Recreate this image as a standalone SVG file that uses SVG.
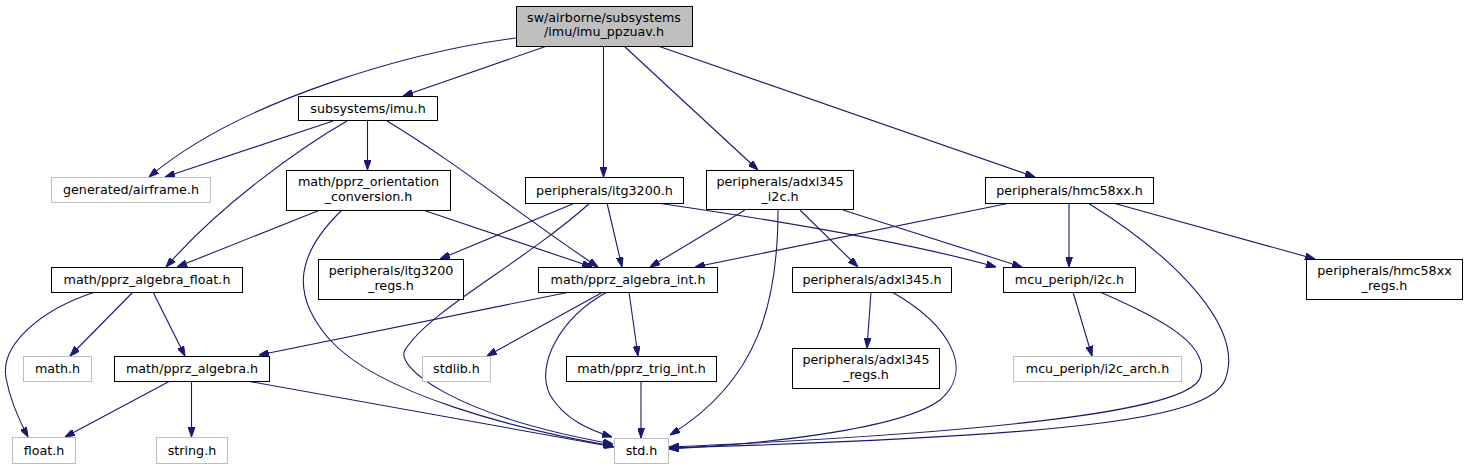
<svg xmlns="http://www.w3.org/2000/svg" width="1467" height="469" viewBox="0 0 1467 469">
<style>
.n rect{fill:#fff;stroke:#000;stroke-width:1}
.n.g rect{stroke:#bfbfbf}
.n.r rect{fill:#bfbfbf}
.n text{font-family:"DejaVu Sans","Liberation Sans",sans-serif;font-size:12.7px;text-anchor:middle;fill:#000}
#edges path{fill:none;stroke:#191970;stroke-width:1.1;marker-end:url(#ah)}
</style>
<defs>
<marker id="ah" viewBox="0 0 10 7" refX="10" refY="3.5" markerWidth="10" markerHeight="7" markerUnits="userSpaceOnUse" orient="auto">
<path d="M0,0 L10,3.5 L0,7 z" fill="#191970" stroke="#191970" stroke-width="1"/>
</marker>
</defs>
<rect width="1467" height="469" fill="#fff"/>
<g id="edges">
<path d="M516,38 C410,52 240,100 149,177"/>
<path d="M547,46 L403,96"/>
<path d="M603.5,46 L603.5,177"/>
<path d="M624,46 L758,170"/>
<path d="M658,46 L1035,177"/>
<path d="M333,121 L165,177"/>
<path d="M347,121 C300,148 220,205 166,267"/>
<path d="M367.5,121 L367.5,170"/>
<path d="M387,121 C460,165 520,215 598,267"/>
<path d="M320,210 L177,267"/>
<path d="M342,210 C290,260 295,300 330,340 C380,395 520,430 613,446"/>
<path d="M423,210 L592,267"/>
<path d="M575,203 L440,259"/>
<path d="M590,203 C520,265 430,310 405,350 C395,366 450,415 613,444"/>
<path d="M607,203 L622,267"/>
<path d="M657,203 C760,218 900,240 996,267"/>
<path d="M745,210 L650,267"/>
<path d="M778,210 C778,300 760,380 670,435"/>
<path d="M800,210 L858,267"/>
<path d="M843,210 L1022,267"/>
<path d="M1010,203 L695,267"/>
<path d="M1069,203 L1069,267"/>
<path d="M1088,203 C1180,260 1245,330 1225,380 C1210,418 1080,436 669,448"/>
<path d="M1113,203 L1315,259"/>
<path d="M1073,292 L1092,356"/>
<path d="M1100,292 C1160,318 1212,345 1200,378 C1190,405 1060,430 669,447"/>
<path d="M871,292 L867,348"/>
<path d="M892,292 C950,325 975,370 940,400 C900,430 760,444 669,449"/>
<path d="M570,292 L259,355"/>
<path d="M603,292 L487,356"/>
<path d="M607,292 C560,318 535,365 550,395 C565,420 590,430 612,437"/>
<path d="M629,292 L638,356"/>
<path d="M641,381 L641,438"/>
<path d="M95,292 C40,310 0,345 6,378 C10,400 18,418 28,437"/>
<path d="M133,292 L70,356"/>
<path d="M153,292 L185,356"/>
<path d="M170,381 L65,437"/>
<path d="M191.5,381 L191.5,437"/>
<path d="M247,381 L614,447"/>
</g>
<g id="root" class="n r"><rect x="516.5" y="6.5" width="176" height="40"/><text x="604" y="21.5">sw/airborne/subsystems</text><text x="604" y="36">/imu/imu_ppzuav.h</text></g>
<g id="imu" class="n"><rect x="298.5" y="96.5" width="139" height="24"/><text x="368" y="112.5">subsystems/imu.h</text></g>
<g id="airframe" class="n g"><rect x="51.5" y="177.5" width="159" height="25"/><text x="131" y="194">generated/airframe.h</text></g>
<g id="orient" class="n"><rect x="286.5" y="170.5" width="164" height="40"/><text x="368.5" y="186">math/pprz_orientation</text><text x="368.5" y="200.5">_conversion.h</text></g>
<g id="algfloat" class="n"><rect x="51.5" y="267.5" width="191" height="25"/><text x="147" y="284">math/pprz_algebra_float.h</text></g>
<g id="itgregs" class="n"><rect x="318.5" y="259.5" width="145" height="40"/><text x="391" y="275">peripherals/itg3200</text><text x="391" y="289.5">_regs.h</text></g>
<g id="itg" class="n"><rect x="525.5" y="177.5" width="158" height="26"/><text x="604.5" y="194.5">peripherals/itg3200.h</text></g>
<g id="algint" class="n"><rect x="538.5" y="267.5" width="179" height="25"/><text x="628" y="284">math/pprz_algebra_int.h</text></g>
<g id="adxli2c" class="n"><rect x="706.5" y="170.5" width="147" height="39"/><text x="780" y="186">peripherals/adxl345</text><text x="780" y="200.5">_i2c.h</text></g>
<g id="hmc" class="n"><rect x="985.5" y="177.5" width="168" height="26"/><text x="1069.5" y="194.5">peripherals/hmc58xx.h</text></g>
<g id="i2c" class="n"><rect x="1003.5" y="267.5" width="132" height="25"/><text x="1069.5" y="284">mcu_periph/i2c.h</text></g>
<g id="hmcregs" class="n"><rect x="1306.5" y="259.5" width="156" height="40"/><text x="1384.5" y="275">peripherals/hmc58xx</text><text x="1384.5" y="289.5">_regs.h</text></g>
<g id="adxl" class="n"><rect x="792.5" y="267.5" width="159" height="25"/><text x="872" y="284">peripherals/adxl345.h</text></g>
<g id="adxlregs" class="n"><rect x="792.5" y="348.5" width="147" height="40"/><text x="866" y="364">peripherals/adxl345</text><text x="866" y="378.5">_regs.h</text></g>
<g id="trig" class="n"><rect x="566.5" y="356.5" width="150" height="25"/><text x="641.5" y="373">math/pprz_trig_int.h</text></g>
<g id="stdlib" class="n g"><rect x="422.5" y="356.5" width="68" height="25"/><text x="456.5" y="373">stdlib.h</text></g>
<g id="std" class="n g"><rect x="614.5" y="438.5" width="54" height="25"/><text x="641.5" y="455">std.h</text></g>
<g id="i2carch" class="n g"><rect x="1013.5" y="356.5" width="168" height="25"/><text x="1097.5" y="373">mcu_periph/i2c_arch.h</text></g>
<g id="math" class="n g"><rect x="23.5" y="356.5" width="68" height="25"/><text x="57.5" y="373">math.h</text></g>
<g id="alg" class="n"><rect x="114.5" y="356.5" width="155" height="25"/><text x="192" y="373">math/pprz_algebra.h</text></g>
<g id="float" class="n g"><rect x="12.5" y="437.5" width="63" height="26"/><text x="44" y="454.5">float.h</text></g>
<g id="string" class="n g"><rect x="156.5" y="437.5" width="71" height="26"/><text x="192" y="454.5">string.h</text></g>
</svg>
